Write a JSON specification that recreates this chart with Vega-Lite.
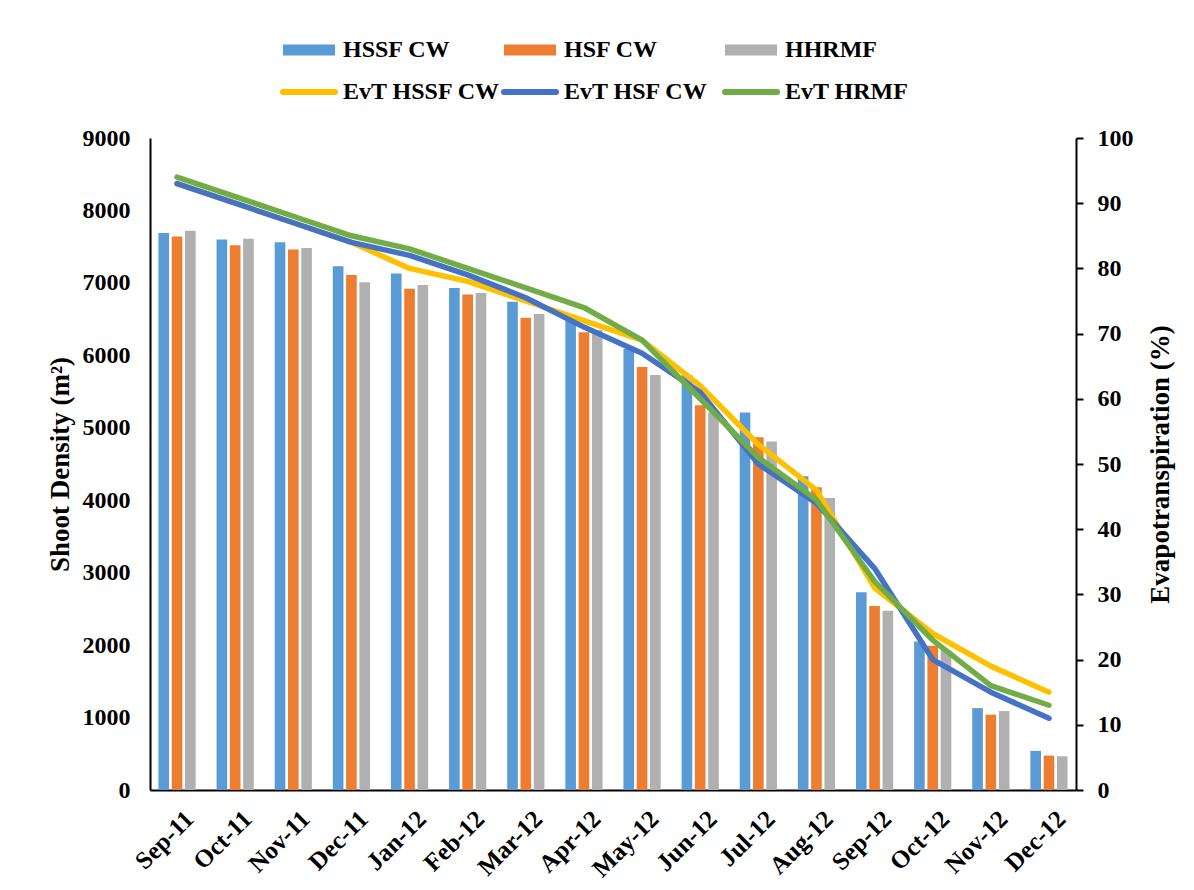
{
  "$schema": "https://vega.github.io/schema/vega-lite/v6.json",
  "width": 926,
  "height": 652,
  "autosize": {"type": "none"},
  "padding": {"left": 150, "top": 138, "right": 118, "bottom": 100},
  "background": "white",
  "config": {
    "view": {"stroke": null},
    "font": "Liberation Serif",
    "axis": {"grid": false, "domainColor": "black", "domainWidth": 2, "labelColor": "black", "titleColor": "black", "labelFont": "Liberation Serif", "titleFont": "Liberation Serif", "labelFontWeight": "bold", "titleFontWeight": "bold"}
  },
  "datasets": {
    "bars": [
      {"month": "Sep-11", "series": "HSSF CW", "density": 7690},
      {"month": "Oct-11", "series": "HSSF CW", "density": 7600},
      {"month": "Nov-11", "series": "HSSF CW", "density": 7560},
      {"month": "Dec-11", "series": "HSSF CW", "density": 7230},
      {"month": "Jan-12", "series": "HSSF CW", "density": 7130},
      {"month": "Feb-12", "series": "HSSF CW", "density": 6930},
      {"month": "Mar-12", "series": "HSSF CW", "density": 6740},
      {"month": "Apr-12", "series": "HSSF CW", "density": 6480},
      {"month": "May-12", "series": "HSSF CW", "density": 6090},
      {"month": "Jun-12", "series": "HSSF CW", "density": 5730},
      {"month": "Jul-12", "series": "HSSF CW", "density": 5210},
      {"month": "Aug-12", "series": "HSSF CW", "density": 4330},
      {"month": "Sep-12", "series": "HSSF CW", "density": 2730},
      {"month": "Oct-12", "series": "HSSF CW", "density": 2050},
      {"month": "Nov-12", "series": "HSSF CW", "density": 1130},
      {"month": "Dec-12", "series": "HSSF CW", "density": 540},
      {"month": "Sep-11", "series": "HSF CW", "density": 7640},
      {"month": "Oct-11", "series": "HSF CW", "density": 7520},
      {"month": "Nov-11", "series": "HSF CW", "density": 7460},
      {"month": "Dec-11", "series": "HSF CW", "density": 7110},
      {"month": "Jan-12", "series": "HSF CW", "density": 6920},
      {"month": "Feb-12", "series": "HSF CW", "density": 6840},
      {"month": "Mar-12", "series": "HSF CW", "density": 6520},
      {"month": "Apr-12", "series": "HSF CW", "density": 6320},
      {"month": "May-12", "series": "HSF CW", "density": 5840},
      {"month": "Jun-12", "series": "HSF CW", "density": 5310},
      {"month": "Jul-12", "series": "HSF CW", "density": 4870},
      {"month": "Aug-12", "series": "HSF CW", "density": 4180},
      {"month": "Sep-12", "series": "HSF CW", "density": 2540},
      {"month": "Oct-12", "series": "HSF CW", "density": 1990},
      {"month": "Nov-12", "series": "HSF CW", "density": 1040},
      {"month": "Dec-12", "series": "HSF CW", "density": 475},
      {"month": "Sep-11", "series": "HHRMF", "density": 7720},
      {"month": "Oct-11", "series": "HHRMF", "density": 7610},
      {"month": "Nov-11", "series": "HHRMF", "density": 7480},
      {"month": "Dec-11", "series": "HHRMF", "density": 7010},
      {"month": "Jan-12", "series": "HHRMF", "density": 6970},
      {"month": "Feb-12", "series": "HHRMF", "density": 6860},
      {"month": "Mar-12", "series": "HHRMF", "density": 6570},
      {"month": "Apr-12", "series": "HHRMF", "density": 6350},
      {"month": "May-12", "series": "HHRMF", "density": 5730},
      {"month": "Jun-12", "series": "HHRMF", "density": 5210},
      {"month": "Jul-12", "series": "HHRMF", "density": 4810},
      {"month": "Aug-12", "series": "HHRMF", "density": 4030},
      {"month": "Sep-12", "series": "HHRMF", "density": 2475},
      {"month": "Oct-12", "series": "HHRMF", "density": 1930},
      {"month": "Nov-12", "series": "HHRMF", "density": 1090},
      {"month": "Dec-12", "series": "HHRMF", "density": 465}
    ],
    "lines": [
      {"month": "Sep-11", "series": "EvT HSSF CW", "evt": 93},
      {"month": "Oct-11", "series": "EvT HSSF CW", "evt": 90},
      {"month": "Nov-11", "series": "EvT HSSF CW", "evt": 87},
      {"month": "Dec-11", "series": "EvT HSSF CW", "evt": 84},
      {"month": "Jan-12", "series": "EvT HSSF CW", "evt": 80},
      {"month": "Feb-12", "series": "EvT HSSF CW", "evt": 78},
      {"month": "Mar-12", "series": "EvT HSSF CW", "evt": 75},
      {"month": "Apr-12", "series": "EvT HSSF CW", "evt": 72},
      {"month": "May-12", "series": "EvT HSSF CW", "evt": 69},
      {"month": "Jun-12", "series": "EvT HSSF CW", "evt": 62},
      {"month": "Jul-12", "series": "EvT HSSF CW", "evt": 53},
      {"month": "Aug-12", "series": "EvT HSSF CW", "evt": 46},
      {"month": "Sep-12", "series": "EvT HSSF CW", "evt": 31},
      {"month": "Oct-12", "series": "EvT HSSF CW", "evt": 24},
      {"month": "Nov-12", "series": "EvT HSSF CW", "evt": 19},
      {"month": "Dec-12", "series": "EvT HSSF CW", "evt": 15},
      {"month": "Sep-11", "series": "EvT HSF CW", "evt": 93},
      {"month": "Oct-11", "series": "EvT HSF CW", "evt": 90},
      {"month": "Nov-11", "series": "EvT HSF CW", "evt": 87},
      {"month": "Dec-11", "series": "EvT HSF CW", "evt": 84},
      {"month": "Jan-12", "series": "EvT HSF CW", "evt": 82},
      {"month": "Feb-12", "series": "EvT HSF CW", "evt": 79},
      {"month": "Mar-12", "series": "EvT HSF CW", "evt": 75.5},
      {"month": "Apr-12", "series": "EvT HSF CW", "evt": 71},
      {"month": "May-12", "series": "EvT HSF CW", "evt": 67},
      {"month": "Jun-12", "series": "EvT HSF CW", "evt": 61},
      {"month": "Jul-12", "series": "EvT HSF CW", "evt": 50},
      {"month": "Aug-12", "series": "EvT HSF CW", "evt": 44},
      {"month": "Sep-12", "series": "EvT HSF CW", "evt": 34},
      {"month": "Oct-12", "series": "EvT HSF CW", "evt": 20},
      {"month": "Nov-12", "series": "EvT HSF CW", "evt": 15},
      {"month": "Dec-12", "series": "EvT HSF CW", "evt": 11},
      {"month": "Sep-11", "series": "EvT HRMF", "evt": 94},
      {"month": "Oct-11", "series": "EvT HRMF", "evt": 91},
      {"month": "Nov-11", "series": "EvT HRMF", "evt": 88},
      {"month": "Dec-11", "series": "EvT HRMF", "evt": 85},
      {"month": "Jan-12", "series": "EvT HRMF", "evt": 83},
      {"month": "Feb-12", "series": "EvT HRMF", "evt": 80},
      {"month": "Mar-12", "series": "EvT HRMF", "evt": 77},
      {"month": "Apr-12", "series": "EvT HRMF", "evt": 74},
      {"month": "May-12", "series": "EvT HRMF", "evt": 69},
      {"month": "Jun-12", "series": "EvT HRMF", "evt": 60},
      {"month": "Jul-12", "series": "EvT HRMF", "evt": 51},
      {"month": "Aug-12", "series": "EvT HRMF", "evt": 44.5},
      {"month": "Sep-12", "series": "EvT HRMF", "evt": 32},
      {"month": "Oct-12", "series": "EvT HRMF", "evt": 23},
      {"month": "Nov-12", "series": "EvT HRMF", "evt": 16},
      {"month": "Dec-12", "series": "EvT HRMF", "evt": 13}
    ]
  },
  "layer": [
    {
      "data": {"name": "bars"},
      "mark": {"type": "bar"},
      "encoding": {
        "x": {
          "field": "month", "type": "nominal",
          "sort": ["Sep-11","Oct-11","Nov-11","Dec-11","Jan-12","Feb-12","Mar-12","Apr-12","May-12","Jun-12","Jul-12","Aug-12","Sep-12","Oct-12","Nov-12","Dec-12"],
          "scale": {"paddingInner": 0.36, "paddingOuter": 0.145},
          "axis": {"title": null, "ticks": false, "labelAngle": -45, "labelFontSize": 25, "labelPadding": 16, "labelOffset": 4}
        },
        "xOffset": {
          "field": "series", "type": "nominal",
          "sort": ["HSSF CW", "HSF CW", "HHRMF"],
          "scale": {"paddingInner": 0.2, "paddingOuter": 0}
        },
        "y": {
          "field": "density", "type": "quantitative",
          "scale": {"domain": [0, 9000], "nice": false},
          "axis": {"title": "Shoot Density (m²)", "format": "d", "values": [0,1000,2000,3000,4000,5000,6000,7000,8000,9000], "ticks": false, "labelFontSize": 24, "labelPadding": 20, "titleFontSize": 27, "titlePadding": 8}
        },
        "color": {
          "field": "series", "type": "nominal",
          "scale": {
            "domain": ["HSSF CW", "HSF CW", "HHRMF", "EvT HSSF CW", "EvT HSF CW", "EvT HRMF"],
            "range": ["#5B9BD5", "#ED7D31", "#B0B0B0", "#FFC000", "#4472C4", "#70AD47"]
          },
          "legend": {
            "orient": "none", "legendX": 147, "legendY": -100, "direction": "horizontal", "columns": 3, "title": null,
            "padding": 0, "symbolSize": 400, "symbolType": "M-2.6,-0.55H2.6V0.55H-2.6Z",
            "labelFont": "Liberation Serif", "labelFontSize": 24, "labelFontWeight": "bold", "labelColor": "black",
            "labelOffset": 22, "columnPadding": -9, "rowPadding": 18, "gridAlign": "all", "labelLimit": 300,
            "encode": {
              "symbols": {
                "update": {
                  "shape": {"signal": "indexof(['HSSF CW','HSF CW','HHRMF'], datum.value) >= 0 ? 'M-2.6,-0.55H2.6V0.55H-2.6Z' : 'M-2.6,0H2.6'"},
                  "fill": {"signal": "indexof(['HSSF CW','HSF CW','HHRMF'], datum.value) >= 0 ? scale('color', datum.value) : 'transparent'"},
                  "stroke": {"signal": "indexof(['HSSF CW','HSF CW','HHRMF'], datum.value) >= 0 ? 'transparent' : scale('color', datum.value)"},
                  "strokeWidth": {"signal": "indexof(['HSSF CW','HSF CW','HHRMF'], datum.value) >= 0 ? 0 : 6"},
                  "strokeCap": {"value": "round"},
                  "opacity": {"value": 1}
                }
              }
            }
          }
        }
      }
    },
    {
      "data": {"name": "lines"},
      "encoding": {
        "x": {
          "field": "month", "type": "nominal",
          "sort": ["Sep-11","Oct-11","Nov-11","Dec-11","Jan-12","Feb-12","Mar-12","Apr-12","May-12","Jun-12","Jul-12","Aug-12","Sep-12","Oct-12","Nov-12","Dec-12"],
          "axis": {"title": null, "ticks": false, "labelAngle": -45, "labelFontSize": 25, "labelPadding": 16, "labelOffset": 4}
        },
        "y": {
          "field": "evt", "type": "quantitative",
          "scale": {"domain": [0, 100], "nice": false},
          "axis": {"orient": "right", "title": "Evapotranspiration (%)", "values": [0,10,20,30,40,50,60,70,80,90,100], "ticks": true, "tickColor": "black", "tickWidth": 2, "tickSize": 7, "labelFontSize": 24, "labelPadding": 14, "titleFontSize": 27, "titlePadding": 14, "titleAngle": 270, "titleBaseline": "top"}
        },
        "color": {"field": "series", "type": "nominal"}
      },
      "layer": [
        {"transform": [{"filter": "datum.series === 'EvT HSSF CW'"}], "mark": {"type": "line", "strokeWidth": 5.5, "strokeCap": "round", "strokeJoin": "round"}},
        {"transform": [{"filter": "datum.series === 'EvT HSF CW'"}], "mark": {"type": "line", "strokeWidth": 5.5, "strokeCap": "round", "strokeJoin": "round"}},
        {"transform": [{"filter": "datum.series === 'EvT HRMF'"}], "mark": {"type": "line", "strokeWidth": 5.5, "strokeCap": "round", "strokeJoin": "round"}}
      ]
    }
  ],
  "resolve": {"scale": {"y": "independent"}}
}
